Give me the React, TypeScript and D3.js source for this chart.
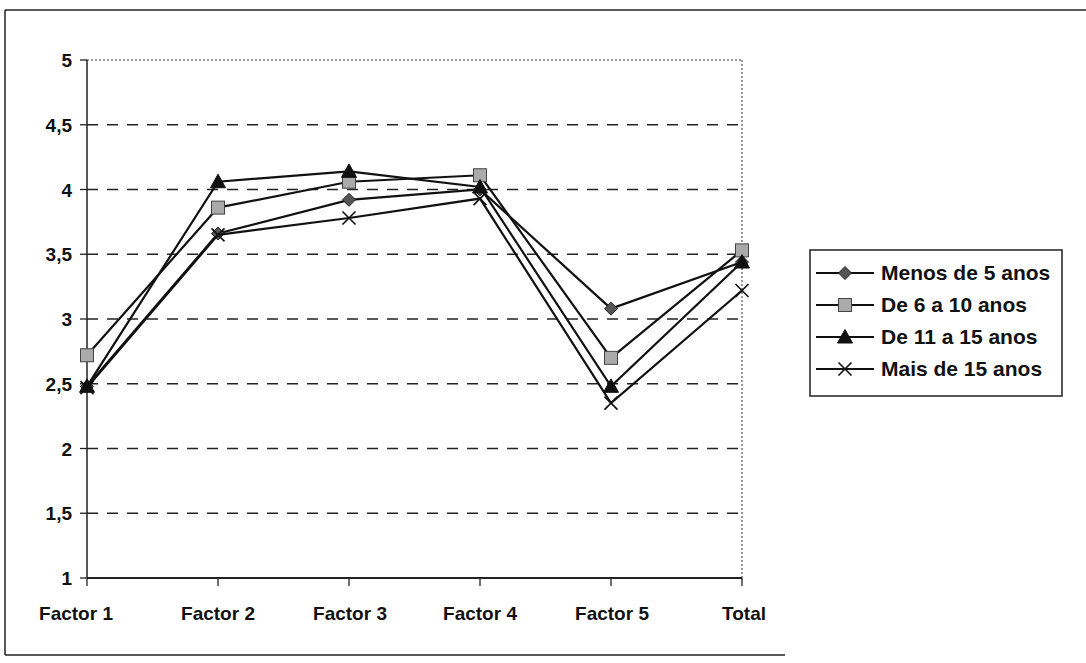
import React from "react";
import * as d3 from "d3";

const categories = ["Factor 1", "Factor 2", "Factor 3", "Factor 4", "Factor 5", "Total"];
const yTicks = [1, 1.5, 2, 2.5, 3, 3.5, 4, 4.5, 5];
const yTickLabels = ["1", "1,5", "2", "2,5", "3", "3,5", "4", "4,5", "5"];
const seriesNames = ["Menos de 5 anos", "De 6 a 10 anos", "De 11 a 15 anos", "Mais de 15 anos"];
const menos5 = [2.48, 3.66, 3.92, 4.0, 3.08, 3.44];
const de6a10 = [2.72, 3.86, 4.06, 4.11, 2.7, 3.53];
const de11a15 = [2.48, 4.06, 4.14, 4.02, 2.48, 3.44];
const mais15 = [2.47, 3.65, 3.78, 3.93, 2.35, 3.22];
const seriesValues = [menos5, de6a10, de11a15, mais15];
const markers = ["diamond", "square", "triangle", "cross"];

const W = 1086, H = 663;
const left = 87, right = 742, top = 60, bottom = 578;

function Marker({ type, x, y }: { type: string; x: number; y: number }) {
  if (type === "diamond") {
    const s = 6.5;
    return <path d={`M${x},${y - s}L${x + s},${y}L${x},${y + s}L${x - s},${y}Z`} fill="#555" stroke="#222" strokeWidth={1} />;
  }
  if (type === "square") {
    const s = 6.5;
    return <rect x={x - s} y={y - s} width={2 * s} height={2 * s} fill="#aaa" stroke="#444" strokeWidth={1} />;
  }
  if (type === "triangle") {
    const s = 7.5;
    return <path d={`M${x},${y - s}L${x + s},${y + s * 0.8}L${x - s},${y + s * 0.8}Z`} fill="#111" stroke="#111" strokeWidth={1} />;
  }
  const s = 6.5;
  return <path d={`M${x - s},${y - s}L${x + s},${y + s}M${x + s},${y - s}L${x - s},${y + s}`} stroke="#111" strokeWidth={1.6} fill="none" />;
}

export default function App() {
  const x = d3.scalePoint<string>().domain(categories).range([left, right]).padding(0);
  const y = d3.scaleLinear().domain([1, 5]).range([bottom, top]);
  const line = d3.line<number>().x((_, i) => x(categories[i]) as number).y((d) => y(d));
  const font = "'Liberation Sans', Arial, sans-serif";
  const legendX = 810, legendY = 250, legendW = 252, legendH = 146;
  const labelCenters = [76, 218, 350, 480, 612, 744];

  return (
    <svg width={W} height={H} style={{ position: "absolute", left: 0, top: 0, background: "#fff" }}>
      {/* outer frame */}
      <line x1={5} y1={10} x2={1086} y2={10} stroke="#222" strokeWidth={1.5} />
      <line x1={5} y1={10} x2={5} y2={655} stroke="#222" strokeWidth={1.5} />
      <line x1={5} y1={655} x2={785} y2={655} stroke="#222" strokeWidth={1.5} />

      {/* plot border dotted */}
      <line x1={left} y1={top} x2={right} y2={top} stroke="#333" strokeWidth={1} strokeDasharray="2,2" />
      <line x1={right} y1={top} x2={right} y2={bottom} stroke="#333" strokeWidth={1} strokeDasharray="2,2" />

      {/* gridlines */}
      {yTicks.filter((t) => t > 1 && t < 5).map((t) => (
        <line key={t} x1={left} x2={right} y1={y(t)} y2={y(t)} stroke="#222" strokeWidth={1.3} strokeDasharray="11,9" />
      ))}

      {/* axes */}
      <line x1={left} y1={top} x2={left} y2={bottom} stroke="#222" strokeWidth={1.5} />
      <line x1={left} y1={bottom} x2={right} y2={bottom} stroke="#222" strokeWidth={2} />
      {yTicks.map((t, i) => (
        <g key={t}>
          <line x1={left - 7} x2={left} y1={y(t)} y2={y(t)} stroke="#222" strokeWidth={1.3} />
          <text x={72} y={y(t) + 7} textAnchor="end" fontFamily={font} fontWeight="bold" fontSize={19} fill="#111">
            {yTickLabels[i]}
          </text>
        </g>
      ))}
      {categories.map((c, i) => (
        <g key={c}>
          <line x1={x(c)} x2={x(c)} y1={bottom} y2={bottom + 8} stroke="#222" strokeWidth={1.3} />
          <text x={labelCenters[i]} y={620} textAnchor="middle" fontFamily={font} fontWeight="bold" fontSize={19} fill="#111">
            {c}
          </text>
        </g>
      ))}

      {/* series */}
      {seriesValues.map((vals, si) => (
        <g key={si}>
          <path d={line(vals) || ""} fill="none" stroke="#111" strokeWidth={2.2} />
          {vals.map((v, i) => (
            <Marker key={i} type={markers[si]} x={x(categories[i]) as number} y={y(v)} />
          ))}
        </g>
      ))}

      {/* legend */}
      <rect x={legendX} y={legendY} width={legendW} height={legendH} fill="#fff" stroke="#222" strokeWidth={1.5} />
      {seriesNames.map((n, i) => {
        const ly = legendY + 23 + i * 32;
        return (
          <g key={n}>
            <line x1={legendX + 6} x2={legendX + 64} y1={ly} y2={ly} stroke="#111" strokeWidth={1.8} />
            <Marker type={markers[i]} x={legendX + 35} y={ly} />
            <text x={legendX + 71} y={ly + 7} fontFamily={font} fontWeight="bold" fontSize={21} fill="#111">
              {n}
            </text>
          </g>
        );
      })}
    </svg>
  );
}
